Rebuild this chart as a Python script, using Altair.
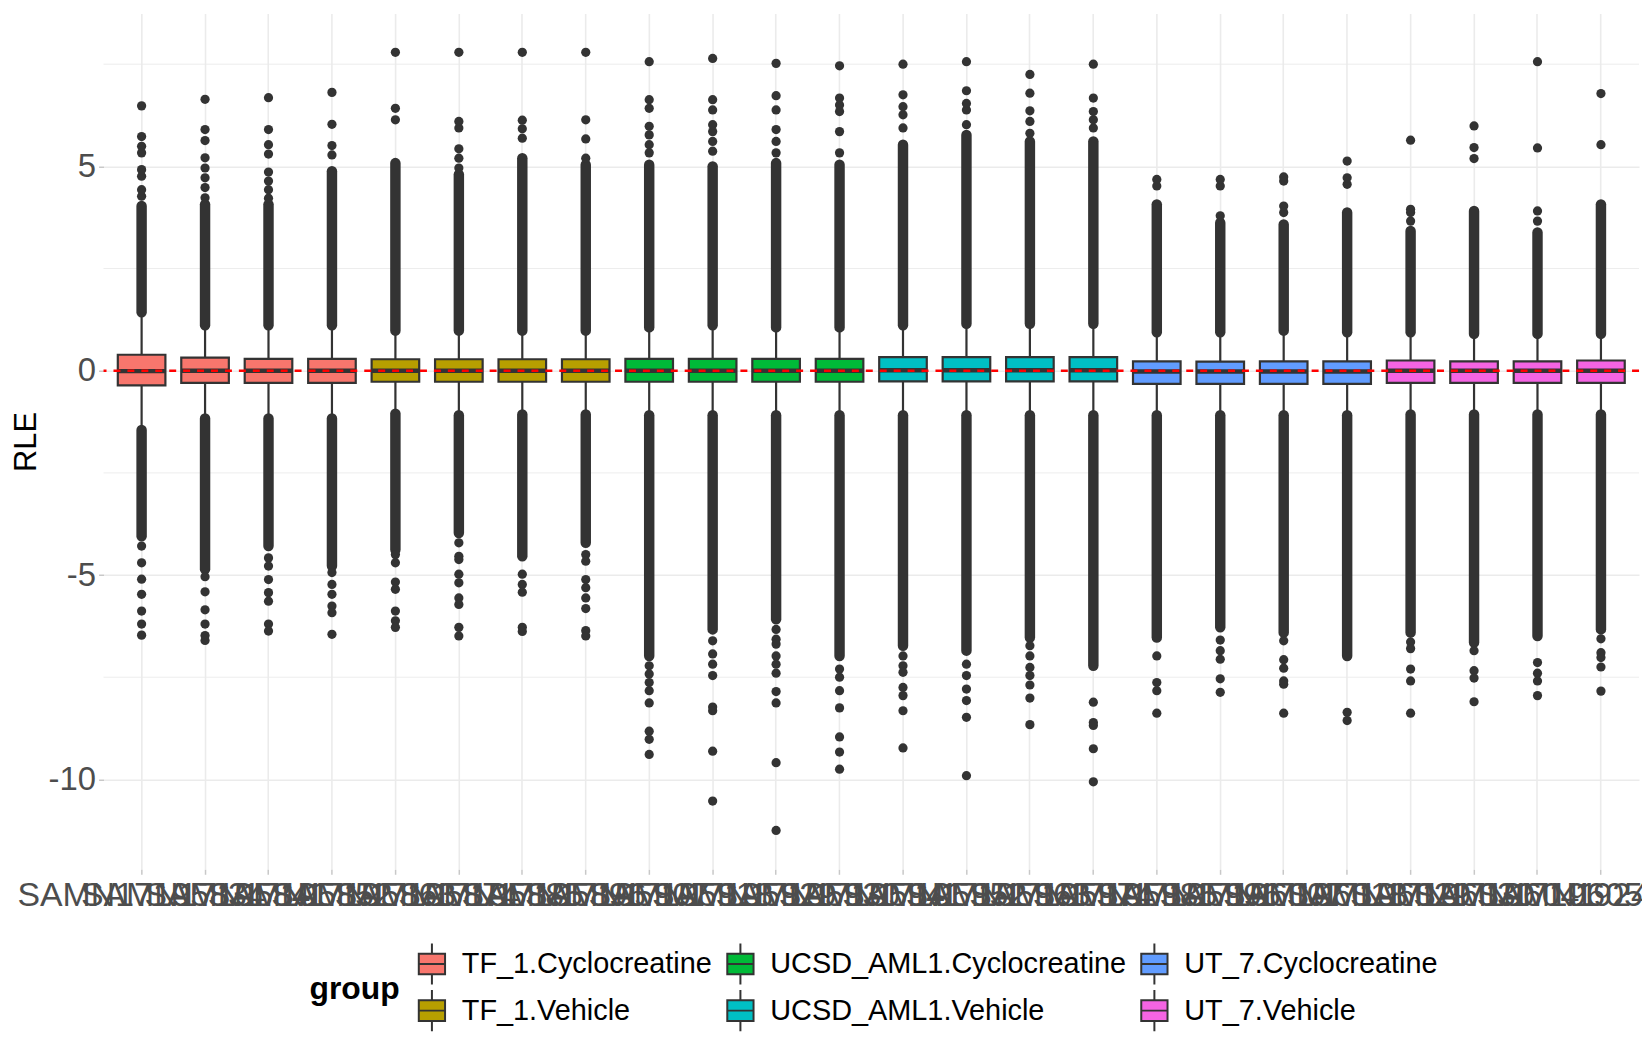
import altair as alt
import pandas as pd

samples = [
    "SAMN17195834", "SAMN17195841", "SAMN17195852", "SAMN17195863",
    "SAMN17195874", "SAMN17195885", "SAMN17195896", "SAMN17195907",
    "SAMN17195918", "SAMN17195929", "SAMN17195930", "SAMN17195941",
    "SAMN17195952", "SAMN17195963", "SAMN17195974", "SAMN17195985",
    "SAMN17195996", "SAMN17196007", "SAMN17196018", "SAMN17196029",
    "SAMN17196030", "SAMN17196041", "SAMN17196052", "SAMN19245379",
]
groups = (["TF_1.Cyclocreatine"] * 4 + ["TF_1.Vehicle"] * 4 +
          ["UCSD_AML1.Cyclocreatine"] * 4 + ["UCSD_AML1.Vehicle"] * 4 +
          ["UT_7.Cyclocreatine"] * 4 + ["UT_7.Vehicle"] * 4)

legend_order = ["TF_1.Cyclocreatine", "UCSD_AML1.Cyclocreatine", "UT_7.Cyclocreatine",
                "TF_1.Vehicle", "UCSD_AML1.Vehicle", "UT_7.Vehicle"]
legend_colors = ["#F8766D", "#00BA38", "#619CFF", "#B79F00", "#00BFC4", "#F564E3"]

q1 = [-0.36, -0.30, -0.30, -0.30, -0.27, -0.27, -0.27, -0.27,
      -0.27, -0.27, -0.27, -0.27, -0.26, -0.26, -0.26, -0.26,
      -0.32, -0.32, -0.32, -0.32, -0.30, -0.30, -0.30, -0.30]
median = [-0.01, 0.0, 0.0, 0.0, 0.0, 0.0, 0.0, 0.0,
          0.0, 0.0, 0.0, 0.0, 0.01, 0.01, 0.01, 0.01,
          -0.02, -0.02, -0.02, -0.02, 0.0, 0.0, 0.0, 0.0]
q3 = [0.39, 0.32, 0.29, 0.29, 0.28, 0.28, 0.28, 0.28,
      0.29, 0.29, 0.29, 0.29, 0.33, 0.33, 0.33, 0.33,
      0.23, 0.22, 0.23, 0.23, 0.25, 0.23, 0.23, 0.25]
whisker_lo = [-1.45, -1.17, -1.17, -1.17, -1.05, -1.09, -1.07, -1.07,
              -1.09, -1.09, -1.09, -1.09, -1.09, -1.09, -1.09, -1.09,
              -1.09, -1.09, -1.09, -1.09, -1.07, -1.07, -1.07, -1.07]
whisker_hi = [1.43, 1.11, 1.11, 1.11, 0.98, 0.98, 0.98, 0.98,
              1.06, 1.11, 1.06, 1.06, 1.11, 1.15, 1.15, 1.15,
              0.94, 0.94, 0.98, 0.94, 0.94, 0.90, 0.90, 0.90]
# extent of the densely packed outlier columns
dense_lo = [-4.05, -4.86, -4.29, -4.78, -4.38, -3.97, -4.54, -4.21,
            -6.98, -6.33, -6.08, -6.98, -6.73, -6.85, -6.53, -7.22,
            -6.53, -6.28, -6.41, -6.98, -6.41, -6.65, -6.49, -6.33]
dense_hi = [4.03, 4.07, 4.07, 4.88, 5.08, 4.80, 5.20, 5.04,
            5.04, 5.00, 5.08, 5.04, 5.53, 5.77, 5.61, 5.61,
            4.07, 3.62, 3.58, 3.87, 3.42, 3.91, 3.38, 4.07]
# isolated outliers beyond the dense columns
sparse_outliers = [
    [4.27, 4.43, 4.76, 4.92, 5.33, 5.49, 5.73, 6.48, -4.29, -4.70, -5.10, -5.47, -5.88, -6.20, -6.47],
    [4.23, 4.48, 4.72, 4.96, 5.21, 5.63, 5.90, 6.64, -5.04, -5.41, -5.85, -6.20, -6.48, -6.60],
    [4.22, 4.43, 4.64, 4.86, 5.30, 5.53, 5.90, 6.68, -4.58, -4.78, -5.11, -5.43, -5.64, -6.20, -6.37],
    [5.28, 5.51, 6.03, 6.81, -4.94, -5.23, -5.47, -5.76, -5.92, -6.45],
    [6.14, 6.42, 7.79, -4.50, -4.70, -5.17, -5.35, -5.88, -6.12, -6.28],
    [4.96, 5.20, 5.43, 5.94, 6.10, 7.79, -4.21, -4.54, -4.62, -4.98, -5.19, -5.56, -5.72, -6.28, -6.49],
    [5.69, 5.92, 6.13, 7.79, -4.98, -5.23, -5.42, -6.28, -6.38],
    [5.20, 5.67, 6.14, 7.79, -4.50, -4.66, -5.11, -5.31, -5.56, -5.82, -6.36, -6.49],
    [5.33, 5.53, 5.77, 5.98, 6.42, 6.63, 7.56, -7.22, -7.42, -7.63, -7.83, -8.13, -8.82, -9.02, -9.39],
    [5.37, 5.61, 5.85, 6.02, 6.38, 6.63, 7.64, -6.61, -6.93, -7.18, -7.46, -8.23, -8.32, -9.31, -10.53],
    [5.33, 5.61, 5.90, 6.38, 6.73, 7.52, -6.33, -6.57, -6.69, -6.98, -7.18, -7.40, -7.85, -8.13, -9.59, -11.25],
    [5.33, 5.85, 6.34, 6.50, 6.67, 7.46, -7.30, -7.50, -7.83, -8.25, -8.96, -9.33, -9.75],
    [5.94, 6.26, 6.46, 6.75, 7.50, -6.98, -7.22, -7.38, -7.75, -7.95, -8.32, -9.23],
    [6.02, 6.38, 6.54, 6.85, 7.56, -7.18, -7.46, -7.79, -8.07, -8.48, -9.91],
    [5.81, 6.10, 6.36, 6.79, 7.25, -6.73, -6.98, -7.26, -7.46, -7.69, -8.01, -8.66],
    [5.94, 6.14, 6.34, 6.67, 7.50, -8.11, -8.61, -8.68, -9.25, -10.06],
    [4.52, 4.68, -6.98, -7.63, -7.83, -8.38],
    [3.79, 4.52, 4.68, -6.59, -6.85, -7.06, -7.54, -7.87],
    [3.87, 4.03, 4.64, 4.74, -6.61, -7.07, -7.28, -7.59, -7.67, -8.38],
    [4.56, 4.72, 5.13, -8.36, -8.56],
    [3.66, 3.87, 3.95, 5.64, -6.64, -6.80, -7.30, -7.59, -8.38],
    [5.19, 5.46, 5.99, -6.85, -7.34, -7.52, -8.10],
    [3.66, 3.91, 5.45, 7.56, -7.14, -7.40, -7.59, -7.95],
    [5.53, 6.78, -6.56, -6.90, -7.02, -7.25, -7.84],
]
y_major = [-10, -5, 0, 5]
y_minor = [-7.5, -2.5, 2.5, 7.5]
reference_line = [0]

box_df = pd.DataFrame({"sample": samples, "group": groups, "q1": q1, "median": median,
                       "q3": q3, "wlo": whisker_lo, "whi": whisker_hi})
dense_rows = []
for s, lo, wl, wh, hi in zip(samples, dense_lo, whisker_lo, whisker_hi, dense_hi):
    dense_rows.append({"sample": s, "a": wh, "b": hi})
    dense_rows.append({"sample": s, "a": lo, "b": wl})
dense_df = pd.DataFrame(dense_rows)
pts_df = pd.DataFrame([{"sample": s, "value": v} for s, vals in zip(samples, sparse_outliers) for v in vals])
minor_df = pd.DataFrame({"y": y_minor})
ref_df = pd.DataFrame({"y": reference_line})

FONT = "Liberation Sans"
DARK = "#333333"
GRID = "#EBEBEB"

yscale = alt.Scale(domain=[-12.2, 8.74], nice=False, zero=False)
xscale = alt.Scale(paddingInner=0, paddingOuter=0.1)

x_enc = alt.X("sample:N", sort=samples, scale=xscale,
              axis=alt.Axis(title=None, labelAngle=0, labelFontSize=34, labelColor="#4D4D4D",
                            labelFont=FONT, labelOverlap=False, labelLimit=1000,
                            ticks=True, tickColor="#C8C8C8", tickSize=5, tickWidth=1.5,
                            domain=False, grid=True, gridColor=GRID, gridWidth=1.6,
                            labelPadding=4))

y_axis = alt.Axis(values=y_major, title="RLE", titleFontSize=31, titleFontWeight="normal",
                  titleColor="black", titleFont=FONT, labelFontSize=33, labelColor="#4D4D4D",
                  labelFont=FONT, labelExpr="datum.value + ''", ticks=True, tickColor="#C8C8C8",
                  tickSize=5, tickWidth=1.5, domain=False, grid=True, gridColor=GRID,
                  gridWidth=1.6, labelPadding=3, titlePadding=6)

minor = alt.Chart(minor_df).mark_rule(color=GRID, strokeWidth=0.9).encode(
    y=alt.Y("y:Q", scale=yscale, axis=y_axis))

whisk = alt.Chart(box_df).mark_rule(color=DARK, strokeWidth=2.2).encode(
    x=x_enc, y=alt.Y("wlo:Q", scale=yscale), y2="whi:Q")

dense = alt.Chart(dense_df).mark_rule(color=DARK, strokeWidth=10.5, strokeCap="round").encode(
    x=x_enc, y=alt.Y("a:Q", scale=yscale), y2="b:Q")

pts = alt.Chart(pts_df).mark_circle(color=DARK, opacity=1, size=86).encode(
    x=x_enc, y=alt.Y("value:Q", scale=yscale))

key_path = "M-0.64,-0.5H0.64V0.5H-0.64Z M-0.64,0H0.64 M0,-0.5V-1 M0,0.5V1"

boxes = alt.Chart(box_df).mark_bar(width=alt.RelativeBandSize(0.75), stroke=DARK,
                                   strokeWidth=2.2, opacity=1).encode(
    x=x_enc, y=alt.Y("q1:Q", scale=yscale), y2="q3:Q",
    fill=alt.Fill("group:N", scale=alt.Scale(domain=legend_order, range=legend_colors),
                  legend=alt.Legend(title="group", orient="none", legendX=207, legendY=933,
                                    direction="horizontal", columns=3, titleOrient="left",
                                    titleAnchor="middle", titleBaseline="middle",
                                    titleFontSize=32, titleFontWeight="bold", titleColor="black",
                                    titleFont=FONT, titlePadding=10, labelFontSize=29,
                                    labelColor="black", labelFont=FONT, labelLimit=800,
                                    labelOffset=8, symbolType=key_path, symbolSize=1700,
                                    symbolStrokeColor=DARK, symbolStrokeWidth=2,
                                    symbolOpacity=1, columnPadding=6, rowPadding=-3, padding=0)))

med = alt.Chart(box_df).mark_tick(color=DARK, thickness=4.4, size=47.8, opacity=1).encode(
    x=x_enc, y=alt.Y("median:Q", scale=yscale))

ref = alt.Chart(ref_df).mark_rule(color="#FF0000", strokeWidth=2.4, strokeDash=[7, 7]).encode(
    y=alt.Y("y:Q", scale=yscale))

chart = alt.layer(minor, whisk, dense, pts, boxes, med, ref).properties(
    width=1543, height=860,
    padding={"left": 96, "top": 3, "right": 3, "bottom": 171},
    autosize=alt.AutoSizeParams(type="none"),
).configure(font=FONT).configure_view(strokeWidth=0)

chart.save("out.html", embed_options={"renderer": "svg", "actions": False})
